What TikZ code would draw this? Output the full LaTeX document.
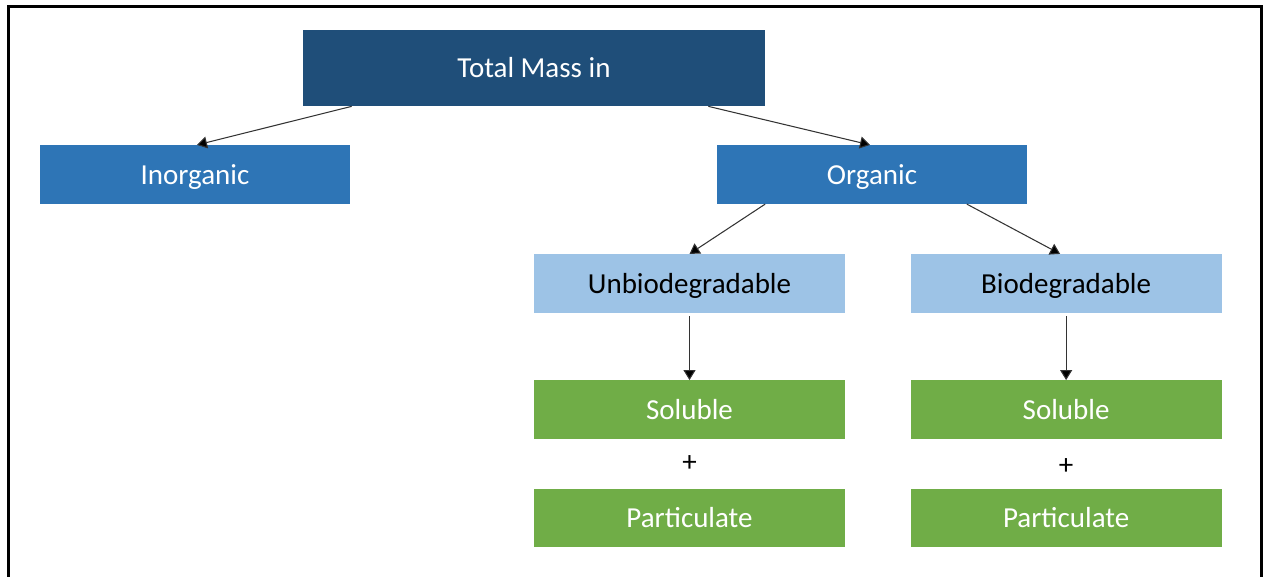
\documentclass[tikz,border=0pt]{standalone}
\usepackage{fontspec}
\setmainfont{Carlito}
\usetikzlibrary{positioning,arrows.meta}
\definecolor{topblue}{HTML}{1F4E79}
\definecolor{midblue}{HTML}{2E75B6}
\definecolor{lightblue}{HTML}{9DC3E6}
\definecolor{leafgreen}{HTML}{70AD47}
\begin{document}
\begin{tikzpicture}
	[x=0.02cm, y=-0.02cm,
	font=\fontsize{16.5}{20}\selectfont,
	box/.style = {minimum width=6.22cm, minimum height=1.17cm, inner sep=0pt, text height=14pt, text depth=3pt},
	top/.style = {box, fill=topblue, text=white, minimum width=9.24cm, minimum height=1.52cm},
	main/.style = {box, fill=midblue, text=white},
	sub/.style = {box, fill=lightblue, text=black},
	leaf/.style = {box, fill=leafgreen, text=white},
	arr/.style = {draw=black!80, line width=0.6pt, -{Triangle[width=0.24cm, length=0.2cm, fill=black]}}]
\useasboundingbox (0,0) rectangle (1267,576);
\clip (0,0) rectangle (1267,576);
\draw[line width=0.06cm] (8.5,6.5) rectangle (1261.5,620);
\node[top] (total) at (534,68) {Total Mass in};
\node[main] (inorganic) at (195,174.5) {Inorganic};
\node[main] (organic) at (872,174.5) {Organic};
\node[sub] (unbio) at (689.5,283.5) {Unbiodegradable};
\node[sub] (bio) [right=1.3cm of unbio] {Biodegradable};
\node[leaf] (solL) [below=1.34cm of unbio] {Soluble};
\node[leaf] (partL) [below=0.98cm of solL] {Particulate};
\node[leaf] (solR) [below=1.34cm of bio] {Soluble};
\node[leaf] (partR) [below=0.98cm of solR] {Particulate};
\path (solL.south) -- node (plusL) {+} (partL.north);
\path (solR.south) -- node[yshift=-0.06cm] (plusR) {+} (partR.north);
\draw[arr] ([xshift=0.98cm]total.south west) -- ([xshift=0.04cm]inorganic.north);
\draw[arr] ([xshift=-1.14cm]total.south east) -- ([xshift=-0.04cm]organic.north);
\draw[arr] ([xshift=0.98cm]organic.south west) -- (unbio.north);
\draw[arr] ([xshift=-1.22cm]organic.south east) -- ([xshift=-0.12cm]bio.north);
\draw[arr, shorten <=0.06cm] (unbio) -- (solL);
\draw[arr, shorten <=0.06cm] (bio) -- (solR);
\end{tikzpicture}
\end{document}
